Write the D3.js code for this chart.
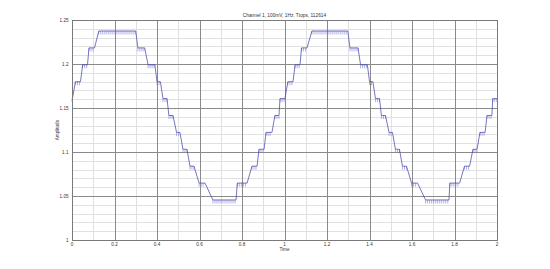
<!DOCTYPE html>
<html><head><meta charset="utf-8">
<script src="https://cdn.jsdelivr.net/npm/d3@7"></script>
<style>html,body{margin:0;padding:0;background:#fff}svg{display:block}text{font-family:"Liberation Sans",Arial,sans-serif}</style>
</head><body>
<script>
const titleText = "Channel 1, 100mV, 1Hz, Ttops, 112614";
const xLabel = "Time";
const yLabel = "Amplitude";
const xTicks = [0, 0.2, 0.4, 0.6, 0.8, 1, 1.2, 1.4, 1.6, 1.8, 2];
const xTickLabels = ["0", "0.2", "0.4", "0.6", "0.8", "1", "1.2", "1.4", "1.6", "1.8", "2"];
const yTicks = [1, 1.05, 1.1, 1.15, 1.2, 1.25];
const yTickLabels = ["1", "1.05", "1.1", "1.15", "1.2", "1.25"];
// quantisation levels
const levels = [1.0455, 1.0647, 1.0839, 1.1031, 1.1223, 1.1415, 1.1607, 1.1799, 1.1991, 1.2183, 1.2375];
// each step: start time, end time, level index
const stepStart = [0.000, 0.016, 0.050, 0.080, 0.126, 0.310, 0.358, 0.400, 0.428, 0.456, 0.492, 0.522, 0.555, 0.598, 0.663, 0.778, 0.847, 0.880, 0.913, 0.955, 0.979,
                   1.016, 1.050, 1.080, 1.129, 1.308, 1.358, 1.400, 1.428, 1.456, 1.492, 1.522, 1.555, 1.598, 1.664, 1.778, 1.847, 1.887, 1.920, 1.953, 1.980];
const stepEnd   = [0.002, 0.040, 0.073, 0.106, 0.300, 0.342, 0.390, 0.416, 0.447, 0.475, 0.508, 0.541, 0.574, 0.626, 0.772, 0.824, 0.871, 0.904, 0.941, 0.974, 1.002,
                   1.040, 1.073, 1.106, 1.298, 1.346, 1.390, 1.416, 1.447, 1.475, 1.508, 1.541, 1.574, 1.626, 1.774, 1.824, 1.871, 1.906, 1.944, 1.976, 2.000];
const stepLevel = [6, 7, 8, 9, 10, 9, 8, 7, 6, 5, 4, 3, 2, 1, 0, 1, 2, 3, 4, 5, 6,
                   7, 8, 9, 10, 9, 8, 7, 6, 5, 4, 3, 2, 1, 0, 1, 2, 3, 4, 5, 6];

const W = 550, H = 269;
const m = {left: 72, right: 53, top: 20, bottom: 29};
const svg = d3.select("body").append("svg").attr("width", W).attr("height", H);
svg.append("rect").attr("width", W).attr("height", H).attr("fill", "#fff");

const x = d3.scaleLinear().domain([0, 2]).range([m.left, W - m.right]);
const y = d3.scaleLinear().domain([1, 1.25]).range([H - m.bottom, m.top]);

const g = svg.append("g");
// minor grid
g.selectAll(".xminor").data(d3.range(0.1, 2, 0.2)).join("line")
  .attr("x1", d => Math.round(x(d)) + 0.5).attr("x2", d => Math.round(x(d)) + 0.5)
  .attr("y1", y(1)).attr("y2", y(1.25)).attr("stroke", "#e0e0e0").attr("stroke-width", 1);
g.selectAll(".yminor").data(d3.range(0, 25).filter(i => i % 5 !== 0).map(i => 1 + i * 0.01)).join("line")
  .attr("y1", d => Math.round(y(d)) + 0.5).attr("y2", d => Math.round(y(d)) + 0.5)
  .attr("x1", x(0)).attr("x2", x(2)).attr("stroke", "#e0e0e0").attr("stroke-width", 1);
// major grid
g.selectAll(".xmaj").data(xTicks).join("line")
  .attr("x1", d => Math.round(x(d)) + 0.5).attr("x2", d => Math.round(x(d)) + 0.5)
  .attr("y1", y(1)).attr("y2", y(1.25)).attr("stroke", "#8a8a8a").attr("stroke-width", 1);
g.selectAll(".ymaj").data(yTicks).join("line")
  .attr("y1", d => Math.round(y(d)) + 0.5).attr("y2", d => Math.round(y(d)) + 0.5)
  .attr("x1", x(0)).attr("x2", x(2)).attr("stroke", "#8a8a8a").attr("stroke-width", 1);

// signal
const pts = [];
stepStart.forEach((s, i) => { pts.push([s, levels[stepLevel[i]]]); pts.push([stepEnd[i], levels[stepLevel[i]]]); });
const line = d3.line().x(d => x(d[0])).y(d => y(d[1]));
// hatch ticks
const hatch = [];
stepStart.forEach((s, i) => {
  for (let t = s; t <= stepEnd[i] + 1e-9; t += 0.0095) hatch.push([t, levels[stepLevel[i]]]);
});
g.selectAll(".hatch").data(hatch).join("line")
  .attr("x1", d => x(d[0])).attr("x2", d => x(d[0]))
  .attr("y1", d => y(d[1])).attr("y2", d => y(d[1]) + 3.5)
  .attr("stroke", "#7c7cd4").attr("stroke-width", 0.6);
g.append("path").attr("d", line(pts)).attr("fill", "none").attr("stroke", "#4848b0").attr("stroke-width", 0.75);

// axes labels
const fs = 4.6;
g.selectAll(".xl").data(xTicks).join("text")
  .attr("x", d => x(d)).attr("y", y(1) + 5.5).attr("text-anchor", "middle")
  .attr("font-size", fs).attr("fill", "#333").text((d, i) => xTickLabels[i]);
g.selectAll(".yl").data(yTicks).join("text")
  .attr("x", x(0) - 3.5).attr("y", d => y(d) + 1.6).attr("text-anchor", "end")
  .attr("font-size", fs).attr("fill", "#333").text((d, i) => yTickLabels[i]);
svg.append("text").attr("x", x(1)).attr("y", y(1) + 11).attr("text-anchor", "middle")
  .attr("font-size", fs).attr("fill", "#333").text(xLabel);
svg.append("text").attr("transform", `translate(${x(0) - 13},${(y(1) + y(1.25)) / 2}) rotate(-90)`)
  .attr("text-anchor", "middle").attr("font-size", fs).attr("fill", "#333").text(yLabel);
svg.append("text").attr("x", x(1)).attr("y", m.top - 3.5).attr("text-anchor", "middle")
  .attr("font-size", 4.8).attr("fill", "#333").text(titleText);
// box
svg.append("rect").attr("x", Math.round(x(0)) + 0.5).attr("y", Math.round(y(1.25)) + 0.5)
  .attr("width", Math.round(x(2)) - Math.round(x(0))).attr("height", Math.round(y(1)) - Math.round(y(1.25)))
  .attr("fill", "none").attr("stroke", "#7a7a7a").attr("stroke-width", 1);
</script>
</body></html>
